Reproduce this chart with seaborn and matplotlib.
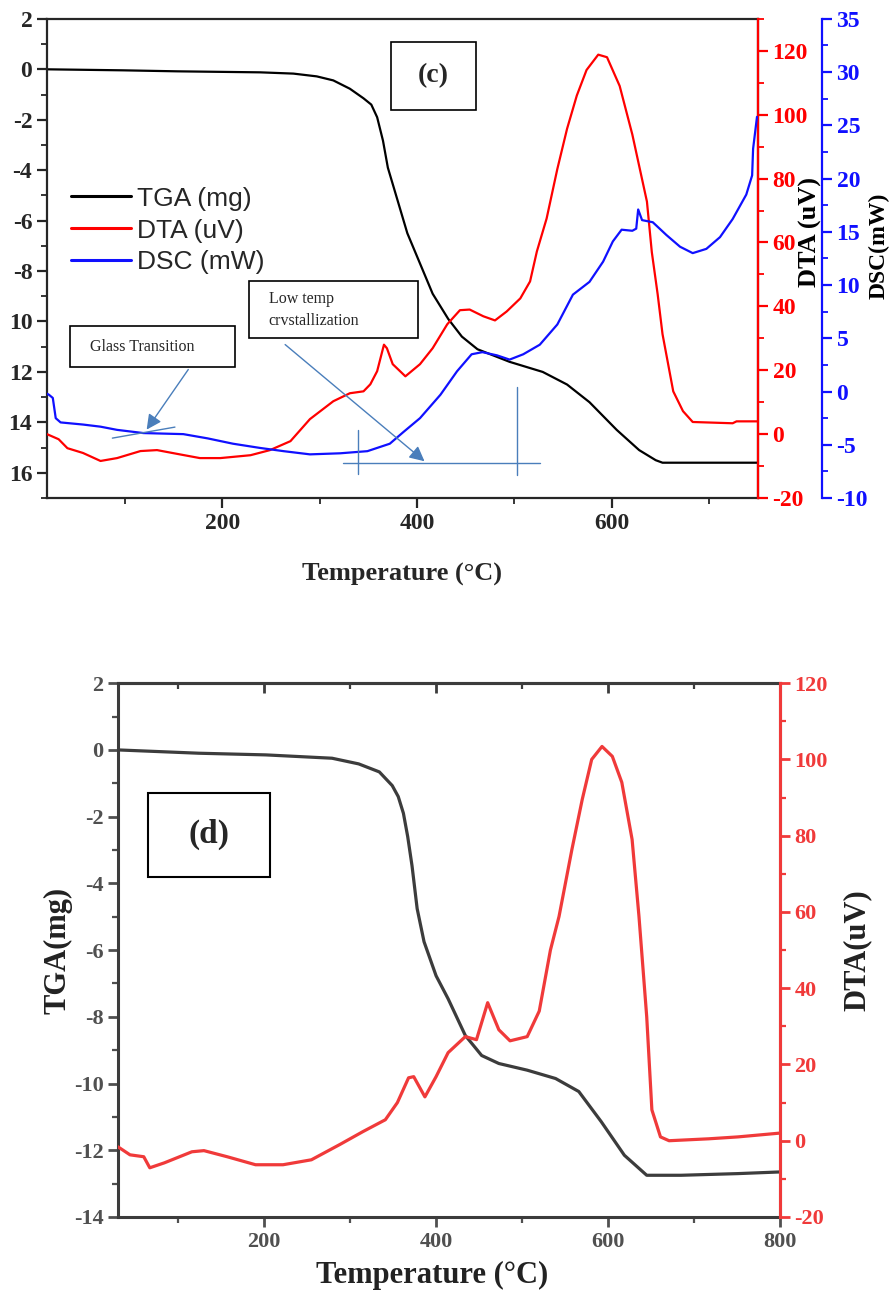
import seaborn as sns
import matplotlib.pyplot as plt
from matplotlib.patches import Rectangle
from matplotlib.lines import Line2D
from matplotlib.ticker import MultipleLocator, FixedLocator, FixedFormatter

# ---- panel (c) data ----
tga_c_x = [20, 98, 154, 239, 273, 297, 314, 331, 345, 353, 359, 365, 370, 380, 390, 403, 416,
           432, 446, 462, 495, 529, 554, 577, 605, 628, 645, 652, 700, 750]
tga_c_y = [0, -0.04, -0.08, -0.12, -0.17, -0.28, -0.44, -0.77, -1.15, -1.4, -1.9, -2.83, -3.9,
           -5.2, -6.5, -7.7, -8.9, -9.9, -10.6, -11.1, -11.6, -12.0, -12.5, -13.2, -14.3,
           -15.1, -15.5, -15.6, -15.6, -15.6]

dta_c_x = [20, 32, 41, 57, 75, 92, 116, 133, 154, 177, 198, 229, 249, 270, 290, 314, 331,
           345, 352, 359, 366, 369, 375, 388, 403, 416, 431, 444, 454, 468, 480, 492, 506,
           516, 523, 533, 544, 554, 564, 574, 586, 595, 608, 621, 636, 641, 647, 652, 663,
           673, 683, 724, 728, 750]
dta_c_y = [0, -1.6, -4.4, -5.9, -8.4, -7.5, -5.3, -5.0, -6.2, -7.5, -7.5, -6.6, -5.0, -2.2,
           4.7, 10.3, 12.8, 13.4, 15.6, 19.7, 28, 26.9, 21.9, 18.1, 21.9, 26.9, 34.4, 38.8,
           39, 36.9, 35.6, 38.4, 42.5, 47.8, 57.2, 67.5, 83, 95.6, 106, 114, 118.8, 118, 109,
           93.8, 72.8, 57, 43.8, 31.3, 13.4, 7.2, 3.8, 3.4, 4, 4]

dsc_c_x = [20, 22, 26, 29, 34, 57, 75, 92, 119, 160, 185, 211, 239, 263, 290, 321, 349, 372,
           386, 403, 424, 441, 456, 467, 482, 495, 509, 526, 544, 560, 577, 591, 601, 610,
           621, 625, 627, 631, 642, 656, 670, 683, 697, 711, 724, 738, 744, 745, 749]
dsc_c_y = [-0.2, -0.3, -0.6, -2.5, -2.9, -3.1, -3.3, -3.6, -3.9, -4.0, -4.4, -4.9, -5.3, -5.6,
           -5.9, -5.8, -5.6, -4.9, -3.8, -2.5, -0.3, 1.9, 3.5, 3.7, 3.4, 3.0, 3.5, 4.4, 6.3,
           9.1, 10.3, 12.2, 14.1, 15.2, 15.1, 15.3, 17.1, 16.1, 15.9, 14.7, 13.6, 13.0, 13.4,
           14.5, 16.2, 18.5, 20.3, 22.8, 25.8]

tga_c_ticks = [2, 0, -2, -4, -6, -8, -10, -12, -14, -16]
tga_c_ticklabels = ['2', '0', '-2', '-4', '-6', '-8', '10', '12', '14', '16']

# ---- panel (d) data ----
tga_d_x = [29, 124, 202, 279, 310, 334, 349, 356, 362, 367, 372, 378, 386, 400, 414, 434, 453,
           473, 506, 539, 566, 592, 619, 645, 685, 751, 800]
tga_d_y = [0, -0.1, -0.15, -0.25, -0.42, -0.66, -1.07, -1.4, -1.9, -2.6, -3.47, -4.76, -5.75,
           -6.77, -7.46, -8.56, -9.16, -9.4, -9.6, -9.85, -10.24, -11.14, -12.15, -12.75,
           -12.75, -12.7, -12.65]

dta_d_x = [30, 44, 60, 67, 84, 116, 130, 157, 190, 222, 255, 288, 315, 341, 355, 368, 374,
           387, 400, 414, 434, 447, 460, 473, 486, 506, 520, 533, 543, 558, 570, 581, 593,
           605, 616, 628, 636, 645, 651, 661, 671, 717, 751, 800]
dta_d_y = [-1.6, -3.7, -4.2, -7.1, -5.8, -2.9, -2.6, -4.2, -6.3, -6.3, -5.0, -1.0, 2.4, 5.5,
           10, 16.5, 16.8, 11.5, 16.8, 23.1, 27.3, 26.5, 36.2, 29.1, 26.2, 27.3, 34, 50, 58.8,
           76.4, 89.5, 100, 103.4, 100.8, 94, 79, 58.8, 32.5, 8.1, 1, 0, 0.5, 1, 2]

sns.set_style("ticks")
plt.rcParams['font.family'] = ['Liberation Serif', 'DejaVu Serif']
plt.rcParams['font.weight'] = 'bold'
plt.rcParams['axes.unicode_minus'] = False

RED = '#ff0000'
BLUE = '#1010ff'
NOTE = '#4a7ebb'

fig = plt.figure(figsize=(8.91, 13.02), dpi=100)

# ================= panel (c) =================
ax_c = fig.add_axes([0.0527, 0.6175, 0.798, 0.368])
ax_c2 = ax_c.twinx()
ax_c3 = ax_c.twinx()
ax_c3.spines['right'].set_position(('axes', 1.09))

sns.lineplot(x=tga_c_x, y=tga_c_y, ax=ax_c, color='black', lw=1.6)
sns.lineplot(x=dta_c_x, y=dta_c_y, ax=ax_c2, color=RED, lw=1.6)
sns.lineplot(x=dsc_c_x, y=dsc_c_y, ax=ax_c3, color=BLUE, lw=1.6)

ax_c.set_xlim(20, 750)
ax_c.set_ylim(-17, 2)
ax_c2.set_ylim(-20, 130)
ax_c3.set_ylim(-10, 35)

ax_c.xaxis.set_major_locator(MultipleLocator(200))
ax_c.xaxis.set_minor_locator(MultipleLocator(100))
ax_c.yaxis.set_major_locator(FixedLocator(tga_c_ticks))
ax_c.yaxis.set_major_formatter(FixedFormatter(tga_c_ticklabels))
ax_c.yaxis.set_minor_locator(MultipleLocator(1))
ax_c2.yaxis.set_major_locator(MultipleLocator(20))
ax_c2.yaxis.set_minor_locator(MultipleLocator(10))
ax_c3.yaxis.set_major_locator(MultipleLocator(5))
ax_c3.yaxis.set_minor_locator(MultipleLocator(2.5))

for a in (ax_c, ax_c2, ax_c3):
    for s in a.spines.values():
        s.set_linewidth(1.6)
    a.tick_params(which='major', length=7, width=1.6, labelsize=17)
    a.tick_params(which='minor', length=4, width=1.3)
ax_c2.spines['right'].set_color(RED)
ax_c2.tick_params(axis='y', which='both', colors=RED)
ax_c3.spines['right'].set_color(BLUE)
ax_c3.tick_params(axis='y', which='both', colors=BLUE)
for a in (ax_c2, ax_c3):
    a.spines['left'].set_visible(False)
    a.spines['top'].set_visible(False)
    a.spines['bottom'].set_visible(False)

ax_c.set_xlabel('Temperature (°C)', fontsize=19, fontweight='bold')
ax_c.xaxis.set_label_coords(0.5, -0.135)
ax_c.set_ylabel('')
ax_c2.set_ylabel('')
ax_c3.set_ylabel('')
fig.text(810 / 891, 1 - 232 / 1302, 'DTA (uV)', rotation=90, ha='center', va='center',
         fontsize=19, fontweight='bold', color='black')
fig.text(879 / 891, 1 - 246 / 1302, 'DSC(mW)', rotation=90, ha='center', va='center',
         fontsize=17, fontweight='bold', color='black')

handles = [Line2D([], [], color='black', lw=2.2), Line2D([], [], color=RED, lw=2.2),
           Line2D([], [], color=BLUE, lw=2.2)]
ax_c3.legend(handles, ['TGA (mg)', 'DTA (uV)', 'DSC (mW)'], loc='upper left',
             bbox_to_anchor=(0.011, 0.683), frameon=False, handlelength=2.3,
             handletextpad=0.2, labelspacing=0.3, borderaxespad=0.2,
             prop={'family': 'Liberation Sans', 'size': 19, 'weight': 'normal'})

# label box (c)
ax_c3.add_patch(Rectangle((0.484, 0.810), 0.119, 0.142, transform=ax_c3.transAxes,
                          facecolor='white', edgecolor='black', lw=1.2))
ax_c3.text(0.5435, 0.881, '(c)', transform=ax_c3.transAxes, ha='center', va='center',
           fontsize=20, fontweight='bold')

# glass transition note
ax_c3.add_patch(Rectangle((0.032, 0.274), 0.232, 0.085, transform=ax_c3.transAxes,
                          facecolor='white', edgecolor='black', lw=1.2))
ax_c3.text(0.06, 0.316, 'Glass Transition', transform=ax_c3.transAxes, ha='left',
           va='center', fontsize=11.5, fontweight='normal')
ax_c3.annotate('', xy=(0.138, 0.138), xytext=(0.201, 0.273), xycoords='axes fraction',
               arrowprops=dict(arrowstyle='-|>,head_length=0.9,head_width=0.45',
                               color=NOTE, lw=1.0))
ax_c3.plot([0.092, 0.18], [0.125, 0.148], transform=ax_c3.transAxes, color=NOTE, lw=1.0)

# low temp crystallization note
ax_c3.add_patch(Rectangle((0.284, 0.334), 0.238, 0.119, transform=ax_c3.transAxes,
                          facecolor='white', edgecolor='black', lw=1.2))
ax_c3.text(0.312, 0.393, 'Low temp\ncrvstallization', transform=ax_c3.transAxes,
           ha='left', va='center', fontsize=11.5, fontweight='normal', linespacing=1.5)
ax_c3.annotate('', xy=(0.534, 0.073), xytext=(0.332, 0.324), xycoords='axes fraction',
               arrowprops=dict(arrowstyle='-|>,head_length=0.9,head_width=0.45',
                               color=NOTE, lw=1.0))
ax_c3.plot([0.416, 0.693], [0.073, 0.073], transform=ax_c3.transAxes, color=NOTE, lw=1.0)
ax_c3.plot([0.437, 0.437], [0.142, 0.050], transform=ax_c3.transAxes, color=NOTE, lw=1.0)
ax_c3.plot([0.661, 0.661], [0.232, 0.048], transform=ax_c3.transAxes, color=NOTE, lw=1.0)

# ================= panel (d) =================
GREY = '#3c3c3c'
LRED = '#f03a3a'
ax_d = fig.add_axes([0.1324, 0.0653, 0.743, 0.410])
ax_d2 = ax_d.twinx()

sns.lineplot(x=tga_d_x, y=tga_d_y, ax=ax_d, color=GREY, lw=2.3)
sns.lineplot(x=dta_d_x, y=dta_d_y, ax=ax_d2, color=LRED, lw=2.3)

ax_d.set_xlim(30, 800)
ax_d.set_ylim(-14, 2)
ax_d2.set_ylim(-20, 120)

ax_d.xaxis.set_major_locator(MultipleLocator(200))
ax_d.xaxis.set_minor_locator(MultipleLocator(100))
ax_d.yaxis.set_major_locator(MultipleLocator(2))
ax_d.yaxis.set_minor_locator(MultipleLocator(1))
ax_d2.yaxis.set_major_locator(MultipleLocator(20))
ax_d2.yaxis.set_minor_locator(MultipleLocator(10))

top = ax_d.secondary_xaxis('top')
top.xaxis.set_major_locator(MultipleLocator(200))
top.xaxis.set_minor_locator(MultipleLocator(100))
top.tick_params(which='both', direction='in', labeltop=False, colors=GREY)
top.tick_params(which='major', length=7, width=2)
top.tick_params(which='minor', length=4, width=1.6)
top.spines['top'].set_linewidth(2.2)
top.spines['top'].set_color(GREY)

for s in ax_d.spines.values():
    s.set_linewidth(2.2)
    s.set_color(GREY)
ax_d.tick_params(which='major', length=7, width=2, labelsize=16, colors='#505050')
ax_d.tick_params(which='minor', length=4, width=1.6, colors='#505050')
for s in ['left', 'top', 'bottom']:
    ax_d2.spines[s].set_visible(False)
ax_d2.spines['right'].set_color(LRED)
ax_d2.spines['right'].set_linewidth(2.2)
ax_d2.tick_params(which='major', length=7, width=2, labelsize=16, colors=LRED)
ax_d2.tick_params(which='minor', length=4, width=1.6, colors=LRED)

ax_d.set_xlabel('Temperature (°C)', fontsize=22, fontweight='bold', color='#222222')
ax_d.xaxis.set_label_coords(0.475, -0.083)
ax_d.set_ylabel('')
ax_d2.set_ylabel('')
fig.text(58 / 891, 1 - 950 / 1302, 'TGA(mg)', rotation=90, ha='center', va='center',
         fontsize=22, fontweight='bold', color='#222222')
fig.text(857 / 891, 1 - 950 / 1302, 'DTA(uV)', rotation=90, ha='center', va='center',
         fontsize=22, fontweight='bold', color='#222222')

ax_d2.add_patch(Rectangle((0.045, 0.637), 0.185, 0.157, transform=ax_d2.transAxes,
                          facecolor='white', edgecolor='black', lw=1.5))
ax_d2.text(0.1375, 0.716, '(d)', transform=ax_d2.transAxes, ha='center', va='center',
           fontsize=24, fontweight='bold')

fig.savefig('out.png', dpi=100)
